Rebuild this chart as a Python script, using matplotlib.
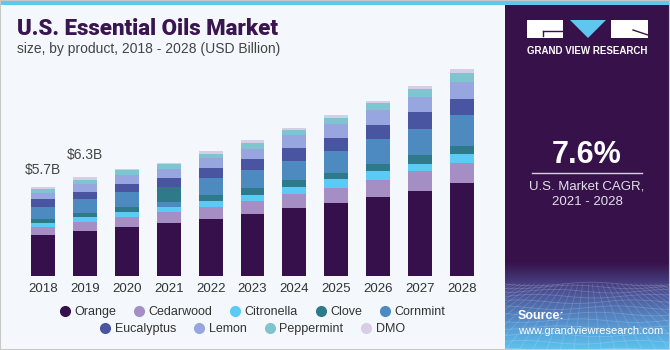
import numpy as np
import matplotlib
matplotlib.use("Agg")
import matplotlib.pyplot as plt
from matplotlib.patches import Rectangle, Polygon
from matplotlib.lines import Line2D

# ---------------- data ----------------
years = ["2018", "2019", "2020", "2021", "2022", "2023", "2024", "2025", "2026", "2027", "2028"]
orange     = [2.62, 2.86, 3.14, 3.37, 3.63, 3.99, 4.37, 4.69, 5.06, 5.46, 5.97]
cedarwood  = [0.51, 0.60, 0.64, 0.72, 0.79, 0.81, 0.90, 0.94, 1.11, 1.28, 1.26]
citronella = [0.26, 0.34, 0.32, 0.34, 0.38, 0.38, 0.45, 0.56, 0.56, 0.45, 0.56]
clove      = [0.28, 0.24, 0.32, 0.96, 0.38, 0.43, 0.43, 0.38, 0.45, 0.53, 0.53]
cornmint   = [0.75, 0.92, 0.96, 0.32, 1.09, 1.17, 1.24, 1.45, 1.58, 1.71, 1.98]
eucalyptus = [0.49, 0.43, 0.49, 0.58, 0.64, 0.70, 0.79, 0.83, 0.88, 1.04, 1.02]
lemon      = [0.40, 0.53, 0.58, 0.56, 0.64, 0.68, 0.85, 0.90, 0.96, 0.98, 1.11]
peppermint = [0.26, 0.24, 0.34, 0.30, 0.28, 0.36, 0.30, 0.36, 0.45, 0.51, 0.56]
dmo        = [0.13, 0.19, 0.06, 0.08, 0.19, 0.17, 0.17, 0.17, 0.17, 0.19, 0.24]

series_names = ["Orange", "Cedarwood", "Citronella", "Clove", "Cornmint",
                "Eucalyptus", "Lemon", "Peppermint", "DMO"]
series_values = [orange, cedarwood, citronella, clove, cornmint,
                 eucalyptus, lemon, peppermint, dmo]
colors = ["#36104a", "#a48ec4", "#5bcbf5", "#2e7a8a", "#4d8abf",
          "#4a55a2", "#97a6de", "#80c4cf", "#d6cde6"]

# in the source chart the 2021 bar stacks Cornmint beneath Clove
stack_order_override = {"2021": ["Orange", "Cedarwood", "Citronella", "Cornmint", "Clove",
                                 "Eucalyptus", "Lemon", "Peppermint", "DMO"]}

annot_years = ["2018", "2019"]
annot_labels = ["$5.7B", "$6.3B"]

title = "U.S. Essential Oils Market"
subtitle = "size, by product, 2018 - 2028 (USD Billion)"
cagr = "7.6%"
cagr_label = "U.S. Market CAGR,\n2021 - 2028"

# ---------------- figure ----------------
W, H = 670, 350
BG = "#f4f8fc"
PURPLE = "#37124a"
plt.rcParams['font.family'] = ['Liberation Sans', 'DejaVu Sans']

fig = plt.figure(figsize=(W / 100, H / 100), dpi=100)
fig.patch.set_facecolor(BG)

def fx(x):
    return x / W

def fy(y):
    return 1 - y / H

# top light-blue strip
fig.add_artist(Rectangle((0, fy(5)), 1, 5 / H, transform=fig.transFigure,
                         facecolor="#5ec6ef", edgecolor="none", zorder=1))
# right panel
fig.add_artist(Rectangle((fx(505), 0), 1 - fx(505), fy(5), transform=fig.transFigure,
                         facecolor=PURPLE, edgecolor="none", zorder=1))

# gradient bottom of panel
gax = fig.add_axes([fx(505), 0, 1 - fx(505), (H - 262) / H], zorder=2)
n = 200
t = np.linspace(0, 1, n)
c0 = np.array([0x37, 0x12, 0x4a]) / 255
c1 = np.array([0x4a, 0x4a, 0x8e]) / 255
c2 = np.array([0x58, 0x9c, 0xd6]) / 255
c3 = np.array([0x5c, 0xc4, 0xee]) / 255
grad = np.zeros((n, 1, 3))
for i, v in enumerate(t):
    if v < 0.3:
        a = v / 0.3
        grad[i, 0] = c0 * (1 - a) + c1 * a
    elif v < 0.75:
        a = (v - 0.3) / 0.45
        grad[i, 0] = c1 * (1 - a) + c2 * a
    else:
        a = (v - 0.75) / 0.25
        grad[i, 0] = c2 * (1 - a) + c3 * a
gax.imshow(grad, aspect="auto", extent=[0, 1, 1, 0], interpolation="bilinear")
# perspective grid texture
for k in range(12):
    yy = 0.25 + (k / 11) ** 1.3 * 0.75
    xs = np.linspace(0, 1, 50)
    gax.plot(xs, yy + 0.02 * np.sin(xs * 9 + k), color="white", alpha=0.18, lw=0.6)
for k in range(-10, 22):
    x0 = k / 12
    gax.plot([0.5 + (x0 - 0.5) * 0.35, x0], [0.25, 1.0], color="white", alpha=0.15, lw=0.6)
gax.set_xlim(0, 1)
gax.set_ylim(1, 0)
gax.axis("off")

# ---------------- chart ----------------
ax = fig.add_axes([fx(22), 74 / H, 461 / W, 218.75 / H], zorder=3)
ax.set_facecolor("none")
x = np.arange(len(years))
name_to_vals = dict(zip(series_names, series_values))
name_to_color = dict(zip(series_names, colors))
for i, yr in enumerate(years):
    order = stack_order_override.get(yr, series_names)
    bottom = 0.0
    for name in order:
        v = name_to_vals[name][i]
        ax.bar(x[i], v, bottom=bottom, width=0.57, color=name_to_color[name],
               edgecolor="none", linewidth=0)
        bottom += v

totals = np.sum(np.array(series_values), axis=0)
for yr, lab, off in zip(annot_years, annot_labels, [10, 15]):
    i = years.index(yr)
    ax.annotate(lab, (x[i], totals[i]), xytext=(0, off), textcoords="offset pixels",
                ha="center", va="bottom", fontsize=10, color="#444444")

ax.set_xlim(-0.5, len(years) - 0.5)
ax.set_ylim(0, 14)
ax.set_xticks(x)
ax.set_xticklabels(years, fontsize=9.5, color="#333333")
ax.tick_params(axis="x", length=0, pad=5)
ax.set_yticks([])
for s in ax.spines.values():
    s.set_visible(False)

# legend (two centered rows)
handles = [Line2D([], [], marker="o", linestyle="", markersize=7, color=c) for c in colors]
leg_kw = dict(loc="center", frameon=False, fontsize=9, handletextpad=0.25,
              columnspacing=1.35, handlelength=1.0, labelcolor="#333333")
fig.legend(handles[:5], series_names[:5], bbox_to_anchor=(fx(252), fy(312)), ncol=5, **leg_kw)
fig.legend(handles[5:], series_names[5:], bbox_to_anchor=(fx(252), fy(329)), ncol=4, **leg_kw)

# titles
fig.text(fx(17), fy(35), title, fontsize=16, fontweight="heavy", color="#3a1650",
         ha="left", va="baseline", family=["Roboto", "DejaVu Sans"])
fig.text(fx(17), fy(53), subtitle, fontsize=10, color="#444444", ha="left", va="baseline")

# right panel texts
fig.text(fx(587), fy(155), cagr, fontsize=22, fontweight="bold", color="white",
         ha="center", va="center")
fig.add_artist(Line2D([fx(532), fx(642)], [fy(173), fy(173)], transform=fig.transFigure,
                      color="#d8d0e0", lw=1, zorder=5))
fig.text(fx(587), fy(194.5), cagr_label, fontsize=9.5, color="#e4e0ea", ha="center",
         va="center", linespacing=1.35)

# logo
fig.add_artist(Rectangle((fx(527), fy(38)), 36 / W, 18 / H, transform=fig.transFigure,
                         facecolor="white", edgecolor="none", zorder=5))
fig.add_artist(Line2D([fx(543), fx(563)], [fy(31), fy(31)], transform=fig.transFigure,
                      color=PURPLE, lw=1, zorder=6))
fig.add_artist(Line2D([fx(543), fx(543)], [fy(31), fy(36)], transform=fig.transFigure,
                      color=PURPLE, lw=1, zorder=6))
fig.add_artist(Polygon([(fx(570), fy(20)), (fx(606), fy(20)), (fx(588), fy(38))],
                       closed=True, transform=fig.transFigure, facecolor="#5ec6ef",
                       edgecolor="none", zorder=5))
fig.add_artist(Rectangle((fx(611), fy(38)), 37 / W, 18 / H, transform=fig.transFigure,
                         facecolor="white", edgecolor="none", zorder=5))
fig.add_artist(Line2D([fx(633), fx(648)], [fy(30), fy(35)], transform=fig.transFigure,
                      color=PURPLE, lw=1, zorder=6))
fig.text(fx(587.5), fy(51), "GRAND VIEW RESEARCH", fontsize=7, fontweight="bold",
         color="white", ha="center", va="center")

fig.text(fx(518), fy(316), "Source:", fontsize=9, fontweight="bold", color="white",
         ha="left", va="center", zorder=6)
fig.text(fx(518), fy(331), "www.grandviewresearch.com", fontsize=8, color="white",
         ha="left", va="center", zorder=6)

# outer frame
fig.add_artist(Rectangle((0, 0), 1, 1, transform=fig.transFigure, facecolor="none",
                         edgecolor="#c8c8c8", lw=1.5, zorder=10))

fig.savefig("out.png", dpi=100, facecolor=fig.get_facecolor())
